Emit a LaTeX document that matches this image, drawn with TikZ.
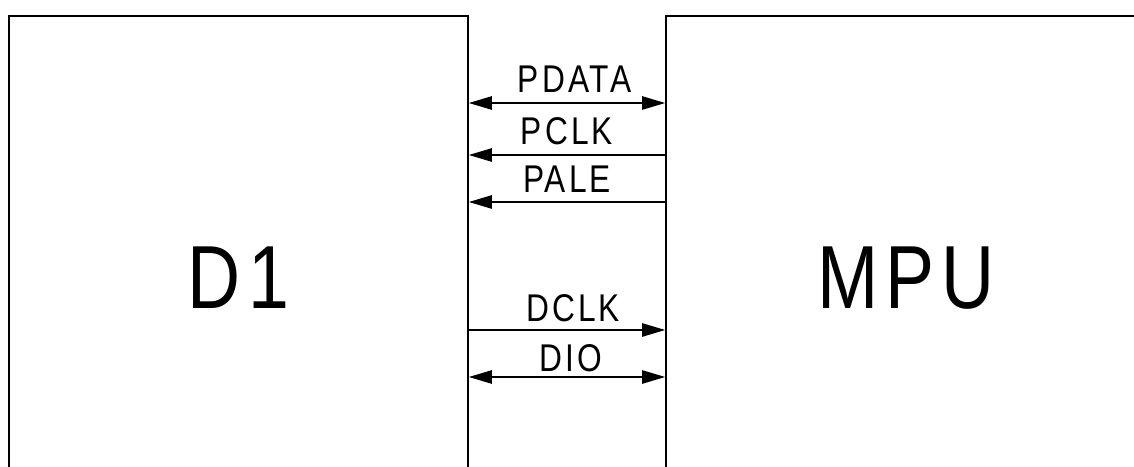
\documentclass[tikz,border=0pt]{standalone}
\usepackage{fontspec}
\setmainfont{Liberation Sans}[FakeStretch=0.82,LetterSpace=8]
\usetikzlibrary{arrows.meta}

\begin{document}
\begin{tikzpicture}[
  x=0.02cm, y=-0.02cm,
  blk/.style={draw,line width=1.1pt,inner sep=0pt,font=\fontsize{51}{51}\selectfont},
  sig/.style={inner sep=0pt,font=\fontsize{22}{22}\selectfont},
  line/.style={line width=0.6pt},
  arrow/.style={line,-{Triangle[length=4.6mm,width=2.7mm]}},
  both/.style={line,{Triangle[length=4.6mm,width=2.7mm]}-{Triangle[length=4.6mm,width=2.7mm]}}
]
\useasboundingbox (0,0) rectangle (1134,467);
\clip (0,0) rectangle (1134,467);
% the two blocks, cut off by the page edge
\node[blk,minimum width=9.18cm,minimum height=10.48cm] (d1) at (238.5,278) {D1};
\node[blk,minimum width=9.6cm,minimum height=10.48cm] (mpu) at (906,278) {MPU};
% signal levels
\coordinate (pdata) at (0,103);
\coordinate (pclk) at (0,155);
\coordinate (pale) at (0,202);
\coordinate (dclk) at (0,330);
\coordinate (dio) at (0,377);
\draw[both] (d1.east |- pdata) -- (mpu.west |- pdata) node[sig,midway,above=2mm,xshift=1.5mm] {PDATA};
\draw[arrow] (mpu.west |- pclk) -- (d1.east |- pclk) node[sig,midway,above=2mm] {PCLK};
\draw[arrow] (mpu.west |- pale) -- (d1.east |- pale) node[sig,midway,above=1.8mm] {PALE};
\draw[arrow] (d1.east |- dclk) -- (mpu.west |- dclk) node[sig,midway,above=1.6mm,xshift=1.2mm] {DCLK};
\draw[both] (d1.east |- dio) -- (mpu.west |- dio) node[sig,midway,above=1mm,xshift=0.8mm] {DIO};
\end{tikzpicture}
\end{document}
